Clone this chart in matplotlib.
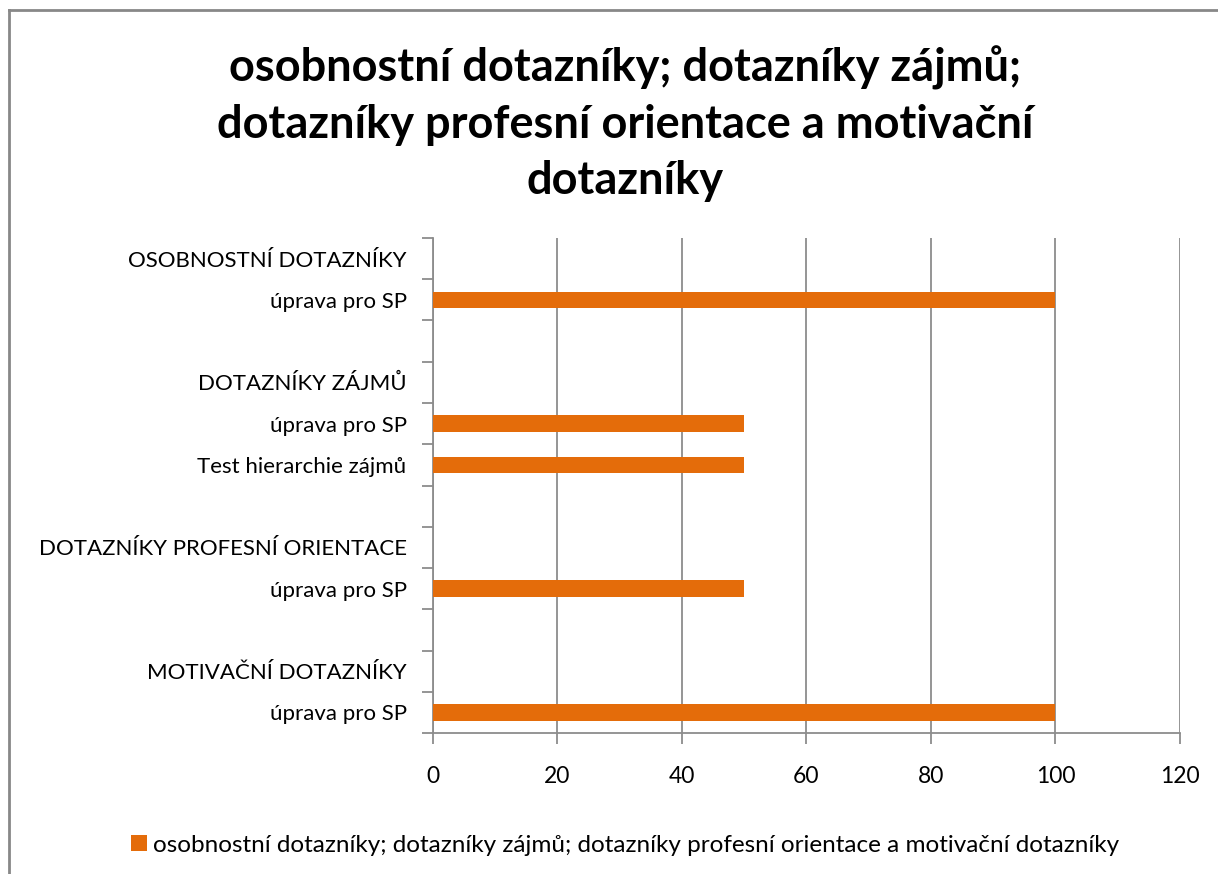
import matplotlib.pyplot as plt
from matplotlib.lines import Line2D
from matplotlib.patches import Patch

# categories listed top to bottom, empty strings are spacer rows
categories = [
    "OSOBNOSTNÍ DOTAZNÍKY",
    "úprava pro SP",
    "",
    "DOTAZNÍKY ZÁJMŮ",
    "úprava pro SP",
    "Test hierarchie zájmů",
    "",
    "DOTAZNÍKY PROFESNÍ ORIENTACE",
    "úprava pro SP",
    "",
    "MOTIVAČNÍ DOTAZNÍKY",
    "úprava pro SP",
]
values = [0, 100, 0, 0, 50, 50, 0, 0, 50, 0, 0, 100]
x_ticks = [0, 20, 40, 60, 80, 100, 120]

series_name = ("osobnostní dotazníky; dotazníky zájmů; "
               "dotazníky profesní orientace a motivační dotazníky")
title = ("osobnostní dotazníky; dotazníky zájmů;\n"
         "dotazníky profesní orientace a motivační\n"
         "dotazníky")

bar_color = "#E46C0A"
grid_color = "#8C8C8C"

plt.rcParams["font.family"] = ["Lato", "DejaVu Sans"]

fig = plt.figure(figsize=(12.18, 8.74), dpi=100)
ax = fig.add_axes([0.3555, 0.1613, 0.6133, 0.5664])

n = len(categories)
ypos = [n - 1 - i for i in range(n)]
ax.barh(ypos, values, height=0.4, color=bar_color, zorder=3)

ax.set_xlim(0, 120)
ax.set_ylim(-0.5, n - 0.5)
ax.set_xticks(x_ticks)
ax.set_xticklabels([str(t) for t in x_ticks], fontsize=16.5)

# labels at row centres, tick marks at row boundaries
ax.set_yticks(ypos)
ax.set_yticklabels(categories, fontsize=16)
ax.tick_params(axis="y", which="major", length=0, pad=19)
ax.set_yticks([i - 0.5 for i in range(n + 1)], minor=True)
ax.tick_params(axis="y", which="minor", length=8, width=1.3, color=grid_color, direction="out")
ax.tick_params(axis="x", length=8, width=1.3, color=grid_color, pad=16)

ax.grid(axis="x", color=grid_color, linewidth=1.3, zorder=0)
for side in ["top", "right"]:
    ax.spines[side].set_visible(False)
for side in ["left", "bottom"]:
    ax.spines[side].set_color(grid_color)
    ax.spines[side].set_linewidth(1.3)

fig.text(0.513, 1 - 124 / 874, title, ha="center", va="center", fontsize=32.5,
         fontweight="bold", linespacing=1.42)

fig.legend(handles=[Patch(facecolor=bar_color, label=series_name)],
           loc="center", bbox_to_anchor=(0.513, 0.033), frameon=False,
           fontsize=17.5, handlelength=0.65, handleheight=0.65, handletextpad=0.25)

# chart outline along the top and left edges
fig.add_artist(Line2D([0.0077, 1.0], [0.9891, 0.9891], color="#888888", linewidth=2, transform=fig.transFigure))
fig.add_artist(Line2D([0.0077, 0.0077], [0.0, 0.9891], color="#888888", linewidth=2, transform=fig.transFigure))

fig.savefig("out.png", dpi=100)
